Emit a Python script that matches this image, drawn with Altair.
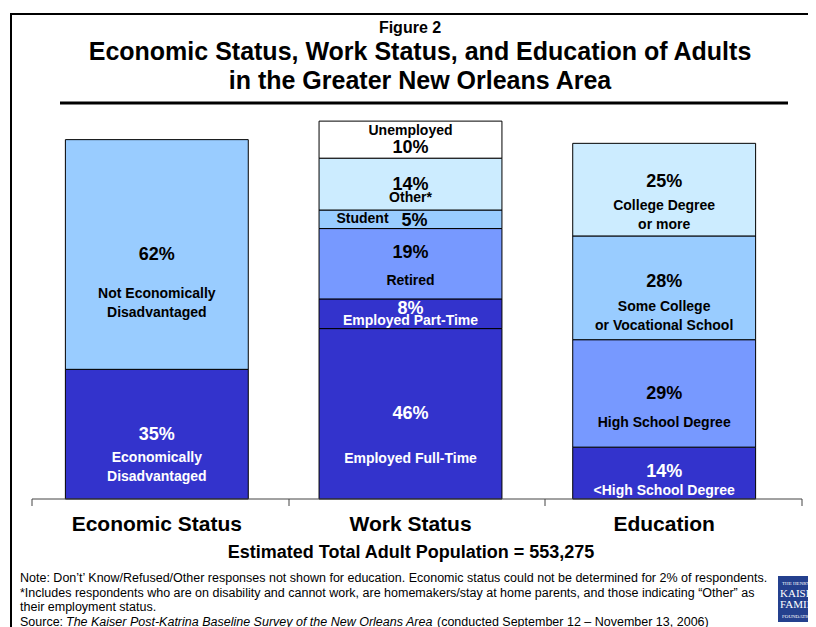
import altair as alt
import pandas as pd

# ---------------- data ----------------
groups = ["Economic Status", "Work Status", "Education"]

econ_names = ["Economically Disadvantaged", "Not Economically Disadvantaged"]
econ_values = [35, 62]
econ_colors = ["#3333CC", "#99CCFF"]

work_names = ["Employed Full-Time", "Employed Part-Time", "Retired", "Student", "Other*", "Unemployed"]
work_values = [46, 8, 19, 5, 14, 10]
work_colors = ["#3333CC", "#3333CC", "#7799FF", "#99CCFF", "#CCECFF", "#FFFFFF"]

edu_names = ["<High School Degree", "High School Degree", "Some College or Vocational School", "College Degree or more"]
edu_values = [14, 29, 28, 25]
edu_colors = ["#3333CC", "#7799FF", "#99CCFF", "#CCECFF"]

# label lines shown in each segment (name lines), with pixel offsets (style)
econ_lines = [["Economically", "Disadvantaged"], ["Not Economically", "Disadvantaged"]]
work_lines = [["Employed Full-Time"], ["Employed Part-Time"], ["Retired"], ["Student"], ["Other*"], ["Unemployed"]]
edu_lines = [["<High School Degree"], ["High School Degree"], ["Some College", "or Vocational School"], ["College Degree", "or more"]]

# (pct offset px, [line offsets px], pct dx, line dx)
econ_style = [(1, [24, 43], 0, 0), (1, [40, 59], 0, 0)]
work_style = [(0, [45], 0, 0), (-5, [7], 0, 0), (-11, [17], 0, 0), (2, [0], 4, -48), (1, [14], 0, 0), (8, [-9], 0, 0)]
edu_style = [(-1, [18], 0, 0), (1, [30], 0, 0), (-6, [19, 38], 0, 0), (-8, [16, 35], 0, 0)]

footnotes = [
    "Note: Don\u2019t\u2019 Know/Refused/Other responses not shown for education. Economic status could not be determined for 2% of respondents.",
    "*Includes respondents who are on disability and cannot work, are homemakers/stay at home parents, and those indicating \u201cOther\u201d as",
    "their employment status.",
]
source_parts = ["Source: ", "The Kaiser Post-Katrina Baseline Survey of the New Orleans Area",
                "(conducted September 12 \u2013 November 13, 2006)"]

FONT = "Liberation Sans, Arial, sans-serif"
W, H = 761, 389
YMAX = 105
PX = H / YMAX
DARK = "#3333CC"

# ---------------- build tables ----------------
bar_rows, lab_rows = [], []
for g, names, vals, cols, lines, styles in [
    (groups[0], econ_names, econ_values, econ_colors, econ_lines, econ_style),
    (groups[1], work_names, work_values, work_colors, work_lines, work_style),
    (groups[2], edu_names, edu_values, edu_colors, edu_lines, edu_style),
]:
    base = 0
    for n, v, c, ls, st in zip(names, vals, cols, lines, styles):
        start, end = base, base + v
        mid = (start + end) / 2
        bar_rows.append(dict(group=g, name=n, start=start, end=end, color=c))
        tcol = "#FFFFFF" if c == DARK else "#000000"
        poff, loffs, pdx, ldx = st
        lab_rows.append(dict(group=g, text=f"{v}%", y=mid - poff / PX, tcol=tcol, size=18, dx=pdx))
        for t, o in zip(ls, loffs):
            lab_rows.append(dict(group=g, text=t, y=mid - o / PX, tcol=tcol, size=14, dx=ldx))
        base = end

bars_df = pd.DataFrame(bar_rows)
labs_df = pd.DataFrame(lab_rows)
cat_df = pd.DataFrame({"group": groups})
dummy = pd.DataFrame({"k": [0]})

xscale = alt.Scale(domain=groups, paddingInner=0.279, paddingOuter=0.1395)
yscale = alt.Scale(domain=[0, YMAX])

bars = alt.Chart(bars_df).mark_bar(stroke="#000000", strokeWidth=1).encode(
    x=alt.X("group:N", scale=xscale, axis=None, sort=groups),
    y=alt.Y("end:Q", scale=yscale, axis=None),
    y2="start:Q",
    color=alt.Color("color:N", scale=None),
)

layers = [bars]
for (size, dx), sub in labs_df.groupby(["size", "dx"]):
    layers.append(
        alt.Chart(sub).mark_text(fontSize=int(size), fontWeight="bold", font=FONT, dx=int(dx), baseline="middle").encode(
            x=alt.X("group:N", scale=xscale, axis=None, sort=groups),
            y=alt.Y("y:Q", scale=yscale, axis=None),
            text="text:N",
            color=alt.Color("tcol:N", scale=None),
        )
    )

layers.append(
    alt.Chart(cat_df).mark_text(fontSize=21, fontWeight="bold", font=FONT, baseline="middle", color="#000000").encode(
        x=alt.X("group:N", scale=xscale, axis=None, sort=groups),
        y=alt.value(415),
        text="group:N",
    )
)


def rule(x1, x2, y1, y2, w, color="#000000"):
    return alt.Chart(dummy).mark_rule(strokeWidth=w, color=color).encode(
        x=alt.value(x1), x2=alt.value(x2), y=alt.value(y1), y2=alt.value(y2))


def txt(s, x, y, size, weight="bold", align="center", style="normal", color="#000000", font=FONT):
    return alt.Chart(dummy).mark_text(text=s, fontSize=size, fontWeight=weight, align=align, baseline="middle",
                                      font=font, fontStyle=style, color=color).encode(x=alt.value(x), y=alt.value(y))


# frame & dividers
layers += [
    rule(-20, 790, -96, -96, 2),
    rule(-19, -19, -96, 530, 2),
    rule(30, 758, -7, -7, 3),
    rule(2, 772, H, H, 1, "#444444"),
]
for tx in [2, 259, 515, 772]:
    layers.append(rule(tx, tx, H, H + 7, 1, "#444444"))

# titles
layers += [
    txt("Figure 2", 380, -82, 16),
    txt("Economic Status, Work Status, and Education of Adults", 390, -58, 25),
    txt("in the Greater New Orleans Area", 390, -29, 25),
    txt("Estimated Total Adult Population = 553,275", 381, 443, 18),
]

# footnotes
FN = 12.5
for i, line in enumerate(footnotes):
    layers.append(txt(line, -10, 468 + i * 14.5, FN, weight="normal", align="left"))
layers += [
    txt(source_parts[0], -10, 511.5, FN, weight="normal", align="left"),
    txt(source_parts[1], 36, 511.5, FN, weight="normal", align="left", style="italic"),
    txt(source_parts[2], 407, 511.5, FN, weight="normal", align="left"),
]

# logo
layers.append(alt.Chart(dummy).mark_rect(color="#24408E").encode(
    x=alt.value(748), x2=alt.value(790), y=alt.value(466), y2=alt.value(512)))
SERIF = "Liberation Serif, DejaVu Serif, serif"
layers += [
    txt("THE HENRY", 752, 473, 5, weight="normal", align="left", color="#FFFFFF", font=SERIF),
    txt("KAISER", 750, 484, 11, weight="normal", align="left", color="#FFFFFF", font=SERIF),
    txt("FAMILY", 750, 495, 11, weight="normal", align="left", color="#FFFFFF", font=SERIF),
    txt("FOUNDATION", 752, 506, 5, weight="normal", align="left", color="#FFFFFF", font=SERIF),
]

chart = alt.layer(*layers).properties(
    width=W, height=H,
    padding={"left": 22, "top": 102, "right": 17, "bottom": 128},
    autosize=alt.AutoSizeParams(type="none"),
    background="#FFFFFF",
).configure_view(strokeWidth=0)

chart.save("out.html", embed_options={"renderer": "svg", "actions": False})
